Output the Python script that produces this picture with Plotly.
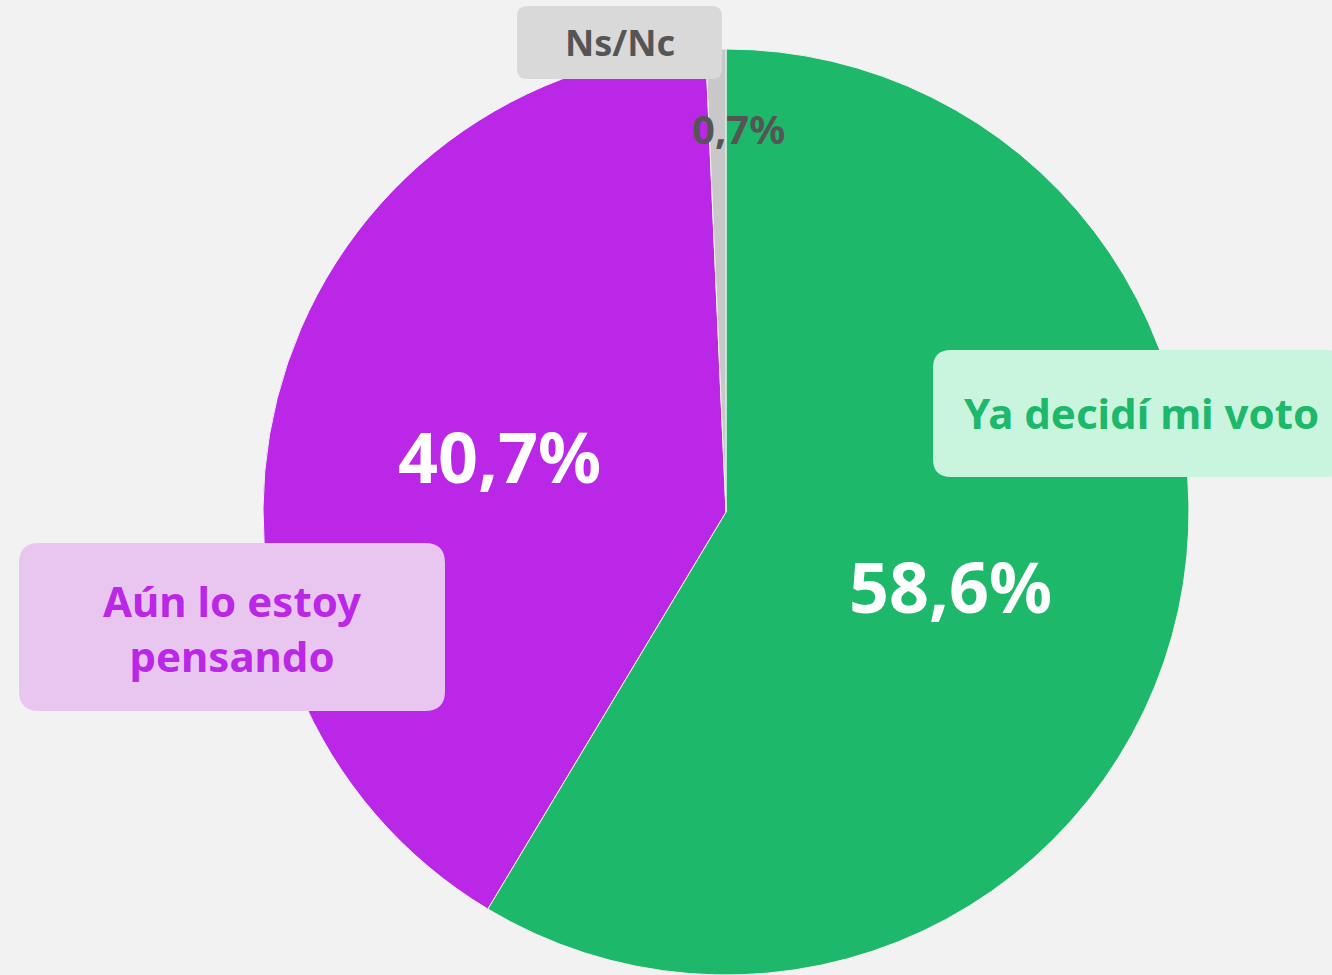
import plotly.graph_objects as go

labels = ['Ya decidí mi voto', 'Aún lo estoy pensando', 'Ns/Nc']
values = [58.6, 40.7, 0.7]
colors = ['#1DB86A', '#BB27E6', '#C8C8C8']

label_text = ['Ya decidí mi voto', 'Aún lo estoy<br>pensando', 'Ns/Nc']
label_color = ['#1DB86A', '#BB27E6', '#555555']
label_bg = ['#C9F5DF', '#E8C6F0', '#D9D9D9']

W, H = 1332, 975
FONT = 'Noto Sans'

# pixel boxes for the callouts: x0, y0, x1, y1, corner radius
boxes = [(933, 350, 1345, 477, 18), (19, 543, 445, 711, 20), (517, 6, 722, 79, 10)]
label_pos = [(1141, 413), (232, 628), (620, 43)]
label_size = [42, 42, 36]
pct_pos = [(950, 586), (500, 456), (738, 128)]
pct_size = [70, 70, 40]
pct_color = ['white', 'white', '#555555']


def px(x, y):
    return x / W, 1 - y / H


def rounded(x0, y0, x1, y1, r):
    def p(x, y):
        a, b = px(x, y)
        return f'{a:.5f},{b:.5f}'
    return (f'M {p(x0 + r, y0)} L {p(x1 - r, y0)} Q {p(x1, y0)} {p(x1, y0 + r)} '
            f'L {p(x1, y1 - r)} Q {p(x1, y1)} {p(x1 - r, y1)} '
            f'L {p(x0 + r, y1)} Q {p(x0, y1)} {p(x0, y1 - r)} '
            f'L {p(x0, y0 + r)} Q {p(x0, y0)} {p(x0 + r, y0)} Z')


fig = go.Figure(go.Pie(
    labels=labels,
    values=values,
    sort=False,
    direction='clockwise',
    rotation=0,
    marker=dict(colors=colors, line=dict(color='#F2F2F2', width=1)),
    textinfo='none',
    hoverinfo='label+percent',
    domain=dict(x=[263 / W, 1189 / W], y=[0, 1 - 49 / H]),
    showlegend=False,
))

shapes = []
for (x0, y0, x1, y1, r), bg in zip(boxes, label_bg):
    shapes.append(dict(type='path', xref='paper', yref='paper', path=rounded(x0, y0, x1, y1, r),
                       fillcolor=bg, line=dict(width=0), layer='above'))

annotations = []
for i in range(len(labels)):
    x, y = px(*label_pos[i])
    annotations.append(dict(x=x, y=y, xref='paper', yref='paper', text=f'<b>{label_text[i]}</b>',
                            showarrow=False, xanchor='center', yanchor='middle',
                            font=dict(family=FONT, size=label_size[i], color=label_color[i])))
    x, y = px(*pct_pos[i])
    annotations.append(dict(x=x, y=y, xref='paper', yref='paper',
                            text='<b>' + f'{values[i]:.1f}'.replace('.', ',') + '%</b>',
                            showarrow=False, xanchor='center', yanchor='middle',
                            font=dict(family=FONT, size=pct_size[i], color=pct_color[i])))

fig.update_layout(
    width=W, height=H,
    margin=dict(l=0, r=0, t=0, b=0),
    paper_bgcolor='#F2F2F2',
    plot_bgcolor='#F2F2F2',
    shapes=shapes,
    annotations=annotations,
)

fig.write_html('out.html', config={'displayModeBar': False},
               post_script="document.body.style.margin='0';")
